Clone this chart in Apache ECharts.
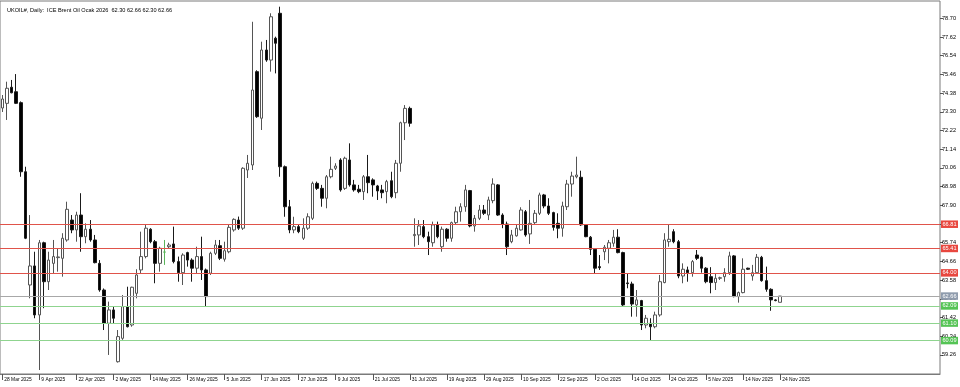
<!DOCTYPE html>
<html>
<head>
<meta charset="utf-8">
<script src="https://cdn.jsdelivr.net/npm/echarts@6.0.0/dist/echarts.min.js"></script>
<style>
  html, body { margin: 0; padding: 0; background: #fff; }
  #chart { width: 960px; height: 387px; }
</style>
</head>
<body>
<div id="chart"></div>
<script>
// ---- data ----
const symbolTitle = 'UKOIL#, Daily:  ICE Brent Oil Ocak 2026';
const yearSuffix = ' 2025';
const categories = [
  '28 Mar','31 Mar','1 Apr','2 Apr','3 Apr','4 Apr','7 Apr','8 Apr',
  '9 Apr','10 Apr','11 Apr','14 Apr','15 Apr','16 Apr','17 Apr','21 Apr',
  '22 Apr','23 Apr','24 Apr','25 Apr','28 Apr','29 Apr','30 Apr','1 May',
  '2 May','5 May','6 May','7 May','8 May','9 May','12 May','13 May',
  '14 May','15 May','16 May','19 May','20 May','21 May','22 May','23 May',
  '26 May','27 May','28 May','29 May','30 May','2 Jun','3 Jun','4 Jun',
  '5 Jun','6 Jun','9 Jun','10 Jun','11 Jun','12 Jun','13 Jun','16 Jun',
  '17 Jun','18 Jun','19 Jun','20 Jun','23 Jun','24 Jun','25 Jun','26 Jun',
  '27 Jun','30 Jun','1 Jul','2 Jul','3 Jul','4 Jul','7 Jul','8 Jul',
  '9 Jul','10 Jul','11 Jul','14 Jul','15 Jul','16 Jul','17 Jul','18 Jul',
  '21 Jul','22 Jul','23 Jul','24 Jul','25 Jul','28 Jul','29 Jul','30 Jul',
  '31 Jul','8 Aug','11 Aug','12 Aug','13 Aug','14 Aug','15 Aug','18 Aug',
  '19 Aug','20 Aug','21 Aug','22 Aug','25 Aug','26 Aug','27 Aug','28 Aug',
  '29 Aug','1 Sep','2 Sep','3 Sep','4 Sep','5 Sep','8 Sep','9 Sep',
  '10 Sep','11 Sep','12 Sep','15 Sep','16 Sep','17 Sep','18 Sep','19 Sep',
  '22 Sep','23 Sep','24 Sep','25 Sep','26 Sep','29 Sep','30 Sep','1 Oct',
  '2 Oct','3 Oct','6 Oct','7 Oct','8 Oct','9 Oct','10 Oct','13 Oct',
  '14 Oct','15 Oct','16 Oct','17 Oct','20 Oct','21 Oct','22 Oct','23 Oct',
  '24 Oct','27 Oct','28 Oct','29 Oct','30 Oct','31 Oct','3 Nov','4 Nov',
  '5 Nov','6 Nov','7 Nov','9 Nov','10 Nov','11 Nov','12 Nov','13 Nov',
  '14 Nov','16 Nov','17 Nov','18 Nov','19 Nov','20 Nov','21 Nov','23 Nov',
  '24 Nov'
];
const xTickLabels = ['28 Mar','9 Apr','22 Apr','2 May','14 May','26 May','5 Jun','17 Jun',
  '27 Jun','9 Jul','21 Jul','31 Jul','19 Aug','29 Aug','10 Sep','22 Sep','2 Oct','14 Oct',
  '24 Oct','5 Nov','14 Nov','24 Nov'];
const openVals = [
  73.52,73.79,74.72,74.46,73.83,69.84,63.30,64.40,61.57,65.74,63.49,64.55,64.88,64.84,65.90,67.05,
  66.48,67.34,66.09,66.52,65.90,64.55,63.01,61.09,61.86,58.87,60.22,62.05,60.99,62.82,64.17,64.94,
  66.52,65.80,64.55,65.20,65.51,65.67,64.65,64.01,65.17,64.74,64.27,64.94,64.17,63.98,65.13,65.57,
  64.79,65.22,66.48,67.05,66.58,69.94,70.23,75.62,72.93,76.87,76.29,77.55,78.99,70.13,67.82,66.48,
  66.67,66.00,66.58,67.15,69.17,68.88,68.31,69.55,70.04,70.52,68.88,70.52,69.08,68.83,68.69,69.55,
  69.37,69.02,68.79,68.69,69.32,68.63,70.33,72.67,73.50,66.15,66.19,66.67,66.09,65.74,66.77,65.51,
  66.52,66.00,66.90,67.53,67.82,68.75,66.71,67.15,67.63,67.34,68.17,69.08,67.34,66.82,65.80,66.14,
  66.48,67.53,66.25,66.90,67.44,68.50,67.86,67.48,66.86,66.58,67.82,69.13,69.55,69.52,66.77,66.06,
  65.36,64.36,65.22,65.42,65.71,66.06,65.17,63.42,63.36,62.15,62.40,60.99,61.09,60.89,61.57,63.44,
  65.80,66.38,65.80,63.82,64.17,64.01,65.03,64.90,64.27,63.78,63.44,63.69,63.78,64.01,64.98,62.63,
  62.86,64.27,63.82,64.01,64.90,63.55,63.05,62.44,62.30
];
const highVals = [
  74.27,75.04,75.14,75.48,73.90,70.13,67.34,65.22,65.90,65.80,65.22,65.90,65.42,66.29,68.11,67.34,
  67.53,68.60,66.86,67.05,66.19,64.74,63.10,62.34,62.05,60.70,62.72,63.20,63.20,64.21,66.38,66.82,
  66.58,65.90,65.51,65.90,65.74,66.67,64.94,65.13,65.22,64.84,65.51,66.09,64.25,65.22,65.90,65.90,
  65.80,66.77,67.15,67.25,70.10,70.81,78.50,75.70,77.35,77.45,78.99,77.64,79.37,70.20,68.21,67.24,
  66.77,67.15,67.44,69.27,69.27,69.08,69.65,70.71,70.33,70.62,70.71,71.48,69.37,69.08,69.65,70.81,
  69.46,69.08,69.08,69.37,69.84,70.52,72.73,73.69,73.60,67.15,67.05,67.05,66.38,66.96,66.96,66.67,
  66.58,66.96,67.82,68.02,69.08,68.79,67.34,67.92,67.92,68.40,69.46,69.13,67.44,66.96,66.48,66.77,
  67.79,67.63,68.21,67.63,68.63,68.56,68.31,67.53,67.44,68.11,69.37,69.84,70.71,69.90,66.82,66.13,
  65.42,65.03,65.61,65.90,66.48,66.52,65.22,63.98,63.49,63.01,62.44,61.57,61.38,61.76,63.88,66.29,
  66.77,66.52,65.90,64.55,64.36,64.74,65.32,64.94,64.33,64.33,63.94,63.78,64.27,65.22,65.03,62.92,
  64.84,64.30,64.46,65.09,64.98,64.36,63.11,62.48,62.66
];
const lowVals = [
  73.29,72.83,74.37,73.75,69.55,65.95,62.53,61.38,58.39,61.96,63.01,63.98,64.07,63.78,65.80,66.29,
  65.80,65.22,65.71,65.80,64.55,62.91,60.70,59.26,61.09,58.82,60.13,60.85,60.89,62.53,63.98,64.84,
  65.71,63.40,64.07,64.46,65.42,64.55,63.49,63.30,64.36,63.49,63.98,63.59,62.05,63.88,65.03,64.74,
  64.65,65.13,66.38,66.48,66.48,69.48,69.94,72.95,72.25,76.19,75.62,75.52,69.55,67.24,66.29,66.29,
  66.29,65.90,66.48,67.05,68.79,67.82,67.73,69.46,69.94,68.69,68.79,68.98,68.69,68.60,68.21,68.60,
  68.40,68.21,68.31,68.02,68.31,68.31,69.84,71.67,72.44,65.51,65.61,66.00,65.03,65.51,66.00,65.22,
  65.80,65.80,66.82,66.96,67.53,66.63,66.38,67.05,67.34,67.05,68.02,67.29,66.58,65.03,65.71,66.09,
  66.44,66.09,65.67,66.82,67.34,67.73,67.34,66.44,66.00,66.09,67.63,68.40,69.46,66.71,66.06,65.03,
  63.98,64.17,64.74,64.55,65.51,65.13,62.05,63.11,61.47,61.47,60.70,60.80,60.09,60.80,61.47,63.40,
  65.51,65.71,63.69,63.40,63.49,63.78,64.74,64.01,63.40,62.82,63.01,63.59,63.49,63.88,62.59,62.28,
  62.82,64.17,63.55,63.94,63.49,62.91,61.81,62.36,62.30
];
const closeVals = [
  74.04,74.66,74.40,73.79,69.84,66.00,64.40,61.57,65.74,63.49,64.74,64.94,64.92,66.00,67.67,66.48,
  67.34,66.09,66.52,65.90,64.59,63.01,61.09,61.86,61.38,60.32,62.05,60.89,63.17,63.88,64.94,66.58,
  65.80,64.55,65.42,65.20,65.61,64.65,64.01,65.03,64.74,64.27,64.94,64.17,62.63,65.13,65.61,64.84,
  65.28,66.63,67.09,66.58,70.04,70.33,74.56,73.02,76.87,76.29,78.79,77.26,70.13,67.82,66.48,66.67,
  66.38,66.58,67.24,69.17,68.88,68.31,69.55,69.98,70.17,68.79,70.62,69.08,68.79,68.69,69.55,69.21,
  69.08,68.73,68.63,69.27,68.40,70.33,72.67,73.50,72.64,66.22,66.71,66.09,65.80,66.77,66.09,66.52,
  66.00,66.90,67.53,67.82,68.79,66.71,67.15,67.63,67.44,68.21,69.13,67.34,66.82,65.51,66.19,66.58,
  67.63,66.19,66.86,67.44,68.50,67.86,67.44,66.63,66.58,67.86,69.13,69.59,69.65,66.77,66.09,65.36,
  64.27,64.30,65.48,65.74,66.06,65.17,62.15,63.38,62.20,62.44,60.99,61.38,60.89,61.57,63.49,65.90,
  65.94,65.80,63.82,64.21,64.01,64.65,64.84,64.27,63.49,63.44,63.69,63.72,64.01,64.98,62.63,62.86,
  64.21,64.21,64.01,64.90,63.55,63.05,62.44,62.40,62.66
];
const yTickValues = [59.26,60.34,61.42,62.50,63.58,64.66,65.74,66.82,67.90,68.98,70.06,71.14,72.22,73.30,74.38,75.46,76.54,77.62,78.70];
const resistanceLevels = [66.81, 65.41, 64.00];
const supportLevels = [62.09, 61.10, 60.09];
const emptyBarsRight = 34;

// ---- chart ----
const n = categories.length;
const xData = categories.concat(new Array(emptyBarsRight).fill(''));
const labelSet = new Set(xTickLabels);
const showLabel = (idx, val) => labelSet.has(val);
const last = n - 1;
const bid = closeVals[last];
const fmt = v => v.toFixed(2);
const titleText = symbolTitle + '  ' + [openVals[last], highVals[last], lowVals[last], closeVals[last]].map(fmt).join(' ');

const candleData = openVals.map((o, i) => {
  const item = { value: [o, closeVals[i], lowVals[i], highVals[i]] };
  if (i === 35) item.itemStyle = { color: '#5ab45a', borderColor: '#5ab45a', color0: '#5ab45a', borderColor0: '#5ab45a' };
  return item;
});

const FONT = 'Liberation Sans, Arial, sans-serif';

function levelSeries(name, values, lineColor, boxColor) {
  return {
    name: name,
    type: 'line',
    data: [],
    silent: true,
    markLine: {
      silent: true,
      symbol: ['none', 'none'],
      animation: false,
      lineStyle: { color: lineColor, width: 1, type: 'solid' },
      label: {
        show: true, position: 'end', distance: 1,
        formatter: p => fmt(p.value),
        color: '#ffffff', fontSize: 5.6, fontFamily: FONT,
        backgroundColor: boxColor,
        padding: [1, 1.5, 0.5, 1.5]
      },
      emphasis: { disabled: true },
      data: values.map(v => ({ yAxis: v }))
    }
  };
}

const chart = echarts.init(document.getElementById('chart'), null, { renderer: 'canvas' });
chart.setOption({
  animation: false,
  backgroundColor: '#ffffff',
  title: {
    text: titleText, left: 2, top: 2,
    textStyle: { fontSize: 5.6, fontWeight: 'normal', color: '#000', fontFamily: FONT }
  },
  grid: { left: -3, right: 20, top: 1, bottom: 13, show: true, borderColor: '#7a7a7a', borderWidth: 1, backgroundColor: 'transparent' },
  xAxis: {
    type: 'category',
    data: xData,
    boundaryGap: true,
    axisLine: { show: true, lineStyle: { color: '#7a7a7a' } },
    axisTick: { show: true, interval: showLabel, alignWithLabel: true, length: 6, lineStyle: { color: '#555' } },
    axisLabel: {
      show: true, interval: showLabel, align: 'left', margin: 3, padding: [0, 0, 0, 2],
      fontSize: 4.9, color: '#000', fontFamily: FONT,
      formatter: v => v ? v + yearSuffix : ''
    },
    splitLine: { show: false }
  },
  yAxis: {
    type: 'value',
    position: 'right',
    min: 58.16, max: 79.70,
    scale: true,
    axisLine: { show: false },
    axisTick: { show: true, customValues: yTickValues, length: 3, lineStyle: { color: '#555' } },
    axisLabel: {
      show: true, customValues: yTickValues, margin: 2, fontSize: 5.6, color: '#000', fontFamily: FONT,
      formatter: v => fmt(v)
    },
    splitLine: { show: false }
  },
  series: [
    levelSeries('support', supportLevels, '#8fd48f', '#55c455'),
    levelSeries('bid', [bid], '#a8a8a8', '#8f9cad'),
    levelSeries('resistance', resistanceLevels, '#e0534a', '#e8473f'),
    {
      type: 'candlestick',
      data: candleData,
      barWidth: 3,
      z: 3,
      itemStyle: {
        color: '#ffffff', color0: '#000000',
        borderColor: '#555555', borderColor0: '#1a1a1a', borderWidth: 1
      }
    }
  ]
});
</script>
</body>
</html>
